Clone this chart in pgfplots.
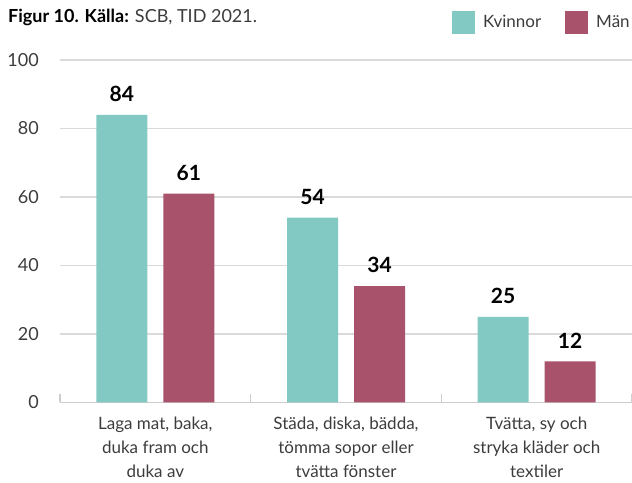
\documentclass[border=0pt]{standalone}
\usepackage{pgfplots}
\pgfplotsset{compat=1.18}
\usepackage{fontspec}
\setmainfont{Lato}
\definecolor{kvinna}{RGB}{130,201,196}
\definecolor{man}{RGB}{168,83,107}
\definecolor{gridgray}{RGB}{218,218,218}
\definecolor{basegray}{RGB}{205,205,205}
\definecolor{txtgray}{RGB}{60,60,60}
\begin{document}
\begin{tikzpicture}[x=1bp,y=1bp]
\path[use as bounding box] (0,0) rectangle (632,483);
\node[anchor=base west, inner sep=0pt, font=\fontsize{18bp}{21bp}\selectfont]
  at (8,460) {\textbf{Figur 10. Källa:} \textcolor{txtgray}{SCB, TID 2021.}};
\begin{axis}[
    at={(60bp,80.5bp)}, anchor=south west,
    scale only axis,
    width=572bp, height=342.5bp,
    xmin=0, xmax=3, ymin=0, ymax=100,
    ybar=16bp, bar width=51bp,
    /pgf/number format/assume math mode=true,
    axis x line*=bottom,
    axis y line*=left,
    y axis line style={draw=none},
    x axis line style={draw=basegray, line width=1.6bp},
    ytick={0,20,40,60,80,100},
    xtick={0.5,1.5,2.5},
    xticklabels={{Laga mat, baka,\\duka fram och\\duka av},
                 {Städa, diska, bädda,\\tömma sopor eller\\tvätta fönster},
                 {Tvätta, sy och\\stryka kläder och\\textiler}},
    minor xtick={0,1,2,3},
    major tick length=0pt,
    minor tick length=8bp,
    tick align=inside,
    minor x tick style={draw=basegray, line width=1.4bp},
    ymajorgrids,
    grid style={draw=gridgray, line width=1.2bp},
    yticklabel style={anchor=east, inner sep=0pt, xshift=-21bp,
        font=\fontsize{18bp}{21bp}\selectfont, text=txtgray},
    xticklabel style={anchor=north, align=center, inner sep=0pt, yshift=-14bp,
        font=\fontsize{17bp}{24bp}\selectfont, text=txtgray},
    legend style={at={(0.6853,1.1095)}, anchor=west, draw=none, fill=none,
        inner sep=0pt, column sep=0pt,
        nodes={inner sep=0pt, font=\fontsize{17bp}{20bp}\selectfont, text=txtgray},
        /tikz/every odd column/.append style={column sep=8bp},
        /tikz/every even column/.append style={column sep=24bp}},
    legend columns=2,
    legend image code/.code={\fill[#1] (0bp,-11.5bp) rectangle (23bp,11.5bp);},
    nodes near coords,
    nodes near coords style={font=\bfseries\fontsize{21bp}{21bp}\selectfont,
        text=black, anchor=south, inner sep=0pt, yshift=13bp},
]
\addplot[fill=kvinna, draw=none]
  coordinates {(0.5,84) (1.5,54) (2.5,25)};
\addlegendentry{Kvinnor}
\addplot[fill=man, draw=none]
  coordinates {(0.5,61) (1.5,34) (2.5,12)};
\addlegendentry{Män}
\end{axis}
\end{tikzpicture}
\end{document}
